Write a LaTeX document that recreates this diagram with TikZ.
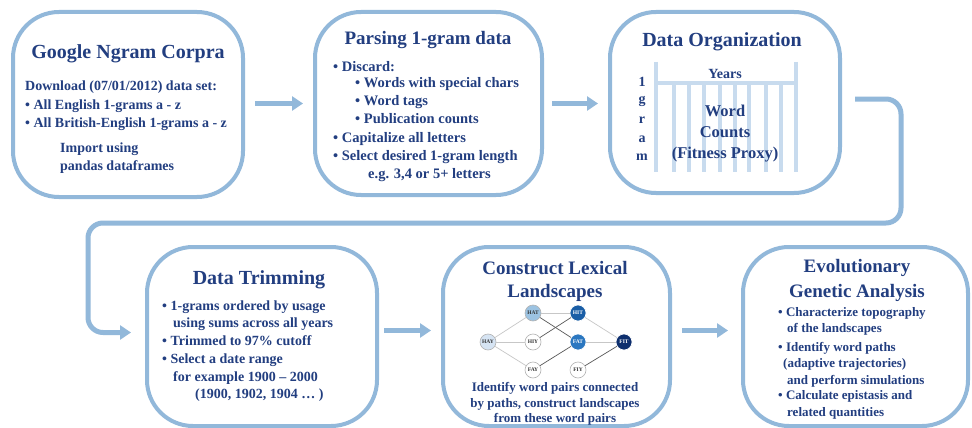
\documentclass[tikz,border=0pt]{standalone}
\usepackage{fontspec}
\setmainfont{Liberation Serif}
\usetikzlibrary{arrows.meta}
\definecolor{bord}{RGB}{146,184,218}
\definecolor{navy}{RGB}{34,62,128}
\definecolor{gridc}{RGB}{200,219,238}
\definecolor{cHAY}{RGB}{214,228,243}
\definecolor{cHAT}{RGB}{156,195,226}
\definecolor{cHIT}{RGB}{26,94,166}
\definecolor{cFAT}{RGB}{43,119,192}
\definecolor{cFIT}{RGB}{14,47,110}
\begin{document}
\begin{tikzpicture}[x=1pt,y=-1pt,
  box/.style={draw=bord,line width=4pt,rounded corners=46pt,inner sep=0pt},
  arr/.style={draw=bord,line width=5pt,-{Triangle[length=11pt,width=14pt]}},
  ttl/.style={text=navy,inner sep=0pt,anchor=base,font=\fontsize{20}{24}\selectfont\bfseries},
  ttlb/.style={text=navy,inner sep=0pt,anchor=base,font=\fontsize{19}{23}\selectfont\bfseries},
  tx/.style={text=navy,inner sep=0pt,anchor=base west,font=\fontsize{14}{18}\selectfont\bfseries},
  txb/.style={text=navy,inner sep=0pt,anchor=base west,font=\fontsize{14.5}{18}\selectfont\bfseries},
  txs/.style={text=navy,inner sep=0pt,anchor=base west,font=\fontsize{13}{16}\selectfont\bfseries},
  txc/.style={text=navy,inner sep=0pt,anchor=base,font=\fontsize{13}{16}\selectfont\bfseries},
  txm/.style={text=navy,inner sep=0pt,anchor=base,font=\fontsize{14}{18}\selectfont\bfseries},
  txl/.style={text=navy,inner sep=0pt,anchor=base,font=\fontsize{16.5}{20}\selectfont\bfseries},
  gridbar/.style={draw=gridc,line width=4.5pt},
  gnode/.style={circle,draw=gray!60,line width=0.6pt,minimum size=16pt,inner sep=0pt,fill=white,
    font=\fontsize{5.5}{5.5}\selectfont\bfseries,text=black!80},
  gdark/.style={circle,draw=white,line width=0.6pt,minimum size=16pt,inner sep=0pt,
    font=\fontsize{5.5}{5.5}\selectfont\bfseries,text=white},
  elight/.style={draw=black!22,line width=0.7pt},
  edark/.style={draw=black!65,line width=0.7pt}]
\fill[white] (0,0) rectangle (972,428);
\useasboundingbox (0,0) rectangle (972,428);

% boxes
\node[box,minimum width=230pt,minimum height=185pt] (b1) at (128,104.5) {};
\node[box,minimum width=227pt,minimum height=183pt] (b2) at (428.5,103.5) {};
\node[box,minimum width=230pt,minimum height=181pt] (b3) at (725,102.5) {};
\node[box,minimum width=230pt,minimum height=179pt] (b4) at (262,336.5) {};
\node[box,minimum width=227pt,minimum height=179pt] (b5) at (556.5,336.5) {};
\node[box,minimum width=225pt,minimum height=179pt] (b6) at (855.5,336.5) {};

% arrows
\draw[arr,shorten <=10pt,shorten >=10pt] ([yshift=1pt]b1.east) -- ([yshift=1pt]b1.east -| b2.west);
\draw[arr,shorten <=8pt,shorten >=10pt] (b2.east) -- (b2.east -| b3.west);
\draw[arr,rounded corners=15pt] ([xshift=13pt,yshift=3.5pt]b3.east) -- (901,99) -- (901,223) -- (88,223) -- (88,332.5) -- ([xshift=-14pt,yshift=4pt]b4.west);
\draw[arr,shorten <=5pt,shorten >=10pt] ([yshift=6pt]b4.east) -- ([yshift=6pt]b4.east -| b5.west);
\draw[arr,shorten <=10pt,shorten >=13pt] ([yshift=6pt]b5.east) -- ([yshift=6pt]b5.east -| b6.west);

% box 1
\node[ttl] (t1) at (128,59) {Google Ngram Corpra};
\node[tx] (t1a) at (25,90) {Download (07/01/2012) data set:};
\node[tx] (t1b) at (25,109) {• All English 1-grams a - z};
\node[tx] (t1c) at (25,127) {• All British-English 1-grams a - z};
\node[tx] (t1d) at (60,152) {Import using};
\node[tx] (t1e) at (60,170) {pandas dataframes};

% box 2
\node[ttlb] (t2) at (428,45) {Parsing 1-gram data};
\node[txb] (t2a) at (333,72) {• Discard:};
\node[txb] (t2b) at (355,88) {• Words with special chars};
\node[txb] (t2c) at (355,105) {• Word tags};
\node[txb] (t2d) at (355,123) {• Publication counts};
\node[txb] (t2e) at (333,142) {• Capitalize all letters};
\node[txb] (t2f) at (333,160) {• Select desired 1-gram length};
\node[txb] (t2g) at (368,178) {e.g. 3,4 or 5+ letters};

% box 3
\node[ttl] (t3) at (722,47) {Data Organization};
\draw[gridbar] (656,62) -- (656,172);
\draw[gridbar] (796,62) -- (796,172);
\draw[gridbar] (656,83) -- (796,83);
\foreach \xx in {674,689,704,720,735,749,766,781}
  \draw[gridbar] (\xx,83) -- (\xx,172);
\node[txm] (t3y) at (725,78) {Years};
\node[txm] (t3l1) at (642,86) {1};
\node[txm] (t3l2) at (642,103) {g};
\node[txm] (t3l3) at (642,123) {r};
\node[txm] (t3l4) at (642,142) {a};
\node[txm] (t3l5) at (642,160) {m};
\node[txl] (t3a) at (725,116) {Word};
\node[txl] (t3b) at (725,137) {Counts};
\node[txl] (t3c) at (725,158) {(Fitness Proxy)};

% box 4
\node[ttl] (t4) at (259,284) {Data Trimming};
\node[tx] (t4a) at (162,310) {• 1-grams ordered by usage};
\node[tx] (t4b) at (173,327) {using sums across all years};
\node[tx] (t4c) at (162,345) {• Trimmed to 97\% cutoff};
\node[tx] (t4d) at (162,363) {• Select a date range};
\node[tx] (t4e) at (173,381) {for example 1900 – 2000};
\node[tx] (t4f) at (195,398) {(1900, 1902, 1904 … )};

% box 5
\node[ttlb] (t5) at (555,274) {Construct Lexical};
\node[ttlb] (t5b) at (555,297) {Landscapes};
\node[gnode,fill=cHAY] (HAY) at (488,342) {HAY};
\node[gnode,fill=cHAT] (HAT) at (533,313) {HAT};
\node[gnode] (HIY) at (533,342) {HIY};
\node[gnode] (FAY) at (533,370) {FAY};
\node[gdark,fill=cHIT] (HIT) at (578,313) {HIT};
\node[gdark,fill=cFAT] (FAT) at (578,342) {FAT};
\node[gnode] (FIY) at (578,370) {FIY};
\node[gdark,fill=cFIT] (FIT) at (624,342) {FIT};
\draw[elight] (HAY) -- (HAT);
\draw[elight] (HAY) -- (HIY);
\draw[elight] (HAY) -- (FAY);
\draw[elight] (HAT) -- (HIT);
\draw[elight] (HIT) -- (FIT);
\draw[elight] (FAT) -- (FIT);
\draw[edark] (HAT) -- (FAT);
\draw[edark] (HIY) -- (HIT);
\draw[edark] (FAY) -- (FAT);
\draw[edark] (FIY) -- (FIT);
\node[txc] (t5c) at (555,391.5) {Identify word pairs connected};
\node[txc] (t5d) at (555,407.5) {by paths, construct landscapes};
\node[txc] (t5e) at (555,422.5) {from these word pairs};

% box 6
\node[ttlb] (t6) at (857,272) {Evolutionary};
\node[ttlb] (t6b) at (857,297) {Genetic Analysis};
\node[txs] (t6c) at (778,316.5) {• Characterize topography};
\node[txs] (t6d) at (787,332.5) {of the landscapes};
\node[txs] (t6e) at (778,351.5) {• Identify word paths};
\node[txs] (t6f) at (783,367.5) {(adaptive trajectories)};
\node[txs] (t6g) at (787,384.5) {and perform simulations};
\node[txs] (t6h) at (778,399.5) {• Calculate epistasis and};
\node[txs] (t6i) at (787,416.5) {related quantities};
\end{tikzpicture}
\end{document}
